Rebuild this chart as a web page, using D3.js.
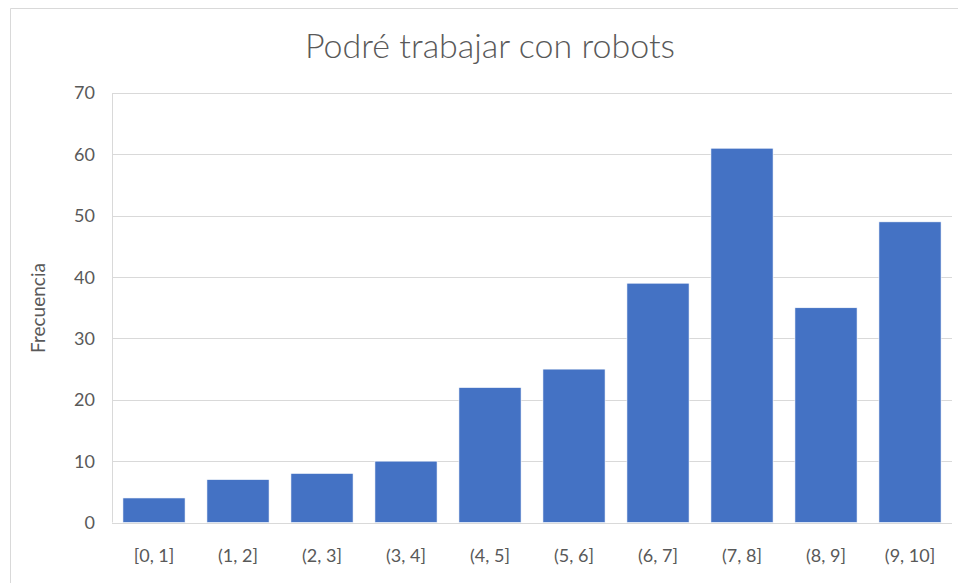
<!DOCTYPE html>
<html>
<head>
<meta charset="utf-8">
<script src="https://cdn.jsdelivr.net/npm/d3@7"></script>
<style>
  body { margin: 0; background: #fff; }
  svg { display: block; font-family: Lato, "Open Sans", sans-serif; }
</style>
</head>
<body>
<div id="chart"></div>
<script>
// chart data
const categories = ['[0, 1]', '(1, 2]', '(2, 3]', '(3, 4]', '(4, 5]', '(5, 6]', '(6, 7]', '(7, 8]', '(8, 9]', '(9, 10]'];
const frecuencias = [4, 7, 8, 10, 22, 25, 39, 61, 35, 49];
const yTicks = [0, 10, 20, 30, 40, 50, 60, 70];

const width = 958, height = 583;
const margin = { top: 93, right: 6, bottom: 60, left: 112 };

const svg = d3.select('#chart').append('svg')
  .attr('width', width)
  .attr('height', height);

// chart frame (only top and left edges are visible)
svg.append('path')
  .attr('d', `M10.5,${height} V8.5 H${width}`)
  .attr('fill', 'none')
  .attr('stroke', '#d9d9d9');

const x = d3.scaleBand()
  .domain(categories)
  .range([margin.left, width - margin.right])
  .paddingInner(0.26)
  .paddingOuter(0.13);

const y = d3.scaleLinear()
  .domain([0, 70])
  .range([height - margin.bottom - 0.5, margin.top]);

// gridlines
svg.append('g')
  .selectAll('line')
  .data(yTicks)
  .enter().append('line')
  .attr('x1', margin.left)
  .attr('x2', width - margin.right)
  .attr('y1', d => Math.round(y(d)) + 0.5)
  .attr('y2', d => Math.round(y(d)) + 0.5)
  .attr('stroke', '#d9d9d9')
  .attr('stroke-width', 1);

// left axis line
svg.append('line')
  .attr('x1', margin.left + 0.5)
  .attr('x2', margin.left + 0.5)
  .attr('y1', y(70))
  .attr('y2', y(0))
  .attr('stroke', '#d9d9d9');

// bars
svg.append('g')
  .selectAll('rect')
  .data(frecuencias)
  .enter().append('rect')
  .attr('x', (d, i) => x(categories[i]))
  .attr('y', d => y(d))
  .attr('width', x.bandwidth())
  .attr('height', d => y(0) - y(d))
  .attr('fill', '#4472c4')
  .attr('stroke', '#ffffff')
  .attr('stroke-width', 0.6);

// y tick labels
svg.append('g')
  .selectAll('text')
  .data(yTicks)
  .enter().append('text')
  .attr('x', 95)
  .attr('y', d => y(d))
  .attr('dy', '0.36em')
  .attr('text-anchor', 'end')
  .attr('fill', '#595959')
  .style('font-size', '18px')
  .text(d => d);

// x tick labels
svg.append('g')
  .selectAll('text')
  .data(categories)
  .enter().append('text')
  .attr('x', d => x(d) + x.bandwidth() / 2)
  .attr('y', 562)
  .attr('text-anchor', 'middle')
  .attr('fill', '#595959')
  .style('font-size', '18px')
  .text(d => d);

// y axis title
svg.append('text')
  .attr('transform', 'translate(45,308) rotate(-90)')
  .attr('text-anchor', 'middle')
  .attr('fill', '#595959')
  .style('font-size', '19px')
  .text('Frecuencia');

// chart title
svg.append('text')
  .attr('x', 490)
  .attr('y', 58)
  .attr('text-anchor', 'middle')
  .attr('fill', '#595959')
  .style('font-size', '34px')
  .style('font-weight', 300)
  .text('Podré trabajar con robots');
</script>
</body>
</html>
